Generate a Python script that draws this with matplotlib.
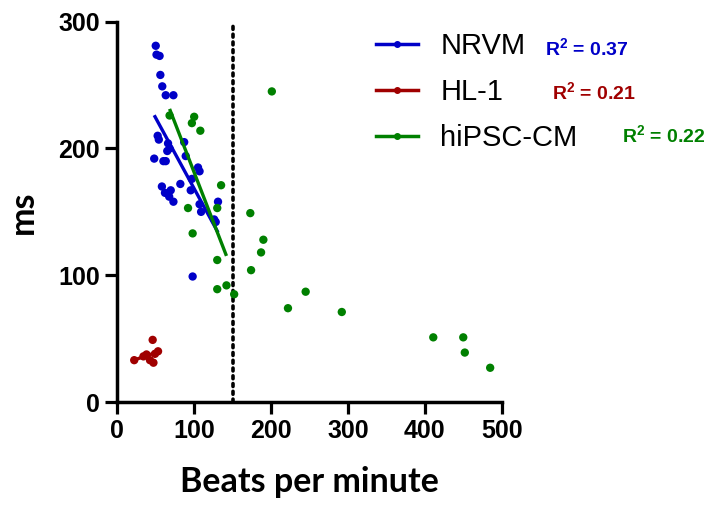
import numpy as np
import matplotlib
matplotlib.use("Agg")
import matplotlib.pyplot as plt
from matplotlib.lines import Line2D

plt.rcParams["mathtext.fontset"] = "custom"
plt.rcParams["mathtext.bf"] = "Liberation Sans:bold"
plt.rcParams["mathtext.rm"] = "Liberation Sans:bold"
plt.rcParams["mathtext.default"] = "bf"

# 데이터
nrvm_bpm = [50, 51, 55, 56, 58.5, 63, 73, 52.5, 54, 66, 68, 65, 87, 89, 48, 60, 63,
            105, 107, 97, 82, 58, 69.5, 62, 67.5, 73, 95.5, 107, 109, 131, 126, 128, 98]
nrvm_ms = [281, 274, 273, 258, 249, 242, 242, 210, 207, 204, 200, 198, 205, 194, 192, 190, 190,
           185, 182, 176, 172, 170, 167, 165, 162, 158, 167, 156, 150, 158, 144, 142, 99]

hl1_bpm = [46, 53, 22, 34, 38, 42.5, 47, 49]
hl1_ms = [49, 40, 33, 36, 37.5, 33, 31, 38]

ips_bpm = [68, 100, 97, 108, 135, 92, 130, 173, 98, 190, 187, 130, 174, 130, 142, 152,
           201, 245, 222, 292, 411, 450, 452, 485]
ips_ms = [226, 225, 220, 214, 171, 153, 153, 149, 133, 128, 118, 112, 104, 89, 92, 85,
          245, 87, 74, 71, 51, 51, 39, 27]

labels = ["NRVM", "HL-1", "hiPSC-CM"]
r2_text = ["0.37", "0.21", "0.22"]
colors = ["#0000c8", "#a00000", "#008000"]
cutoff = 150  # 점선 위치

fig = plt.figure(figsize=(7.14, 5.07), dpi=100)
ax = fig.add_axes([117.3 / 714, 105 / 507, 384.4 / 714, 380.3 / 507])

series = [(nrvm_bpm, nrvm_ms), (hl1_bpm, hl1_ms), (ips_bpm, ips_ms)]
for (xs, ys), c in zip(series, colors):
    ax.scatter(xs, ys, s=36, color=c, edgecolors="none", zorder=3, clip_on=False)

# 회귀선 (150 bpm 이하 데이터만)
for (xs, ys), c in zip(series, colors):
    xs = np.array(xs)
    ys = np.array(ys)
    m = xs < cutoff
    k, b = np.polyfit(xs[m], ys[m], 1)
    xx = np.array([xs[m].min(), xs[m].max()])
    ax.plot(xx, k * xx + b, color=c, lw=2.4, zorder=4, solid_capstyle="butt")

ax.axvline(cutoff, color="black", lw=2.6, linestyle=(0, (0.8, 1.35)),
           dash_capstyle="round", zorder=2)

ax.set_xlim(0, 500)
ax.set_ylim(0, 300)
ax.set_xticks([0, 100, 200, 300, 400, 500])
ax.set_yticks([0, 100, 200, 300])
for s in ["top", "right"]:
    ax.spines[s].set_visible(False)
for s in ["left", "bottom"]:
    ax.spines[s].set_linewidth(2.5)
ax.tick_params(direction="out", length=8.5, width=2.3, labelsize=18, pad=4)
for t in ax.get_xticklabels() + ax.get_yticklabels():
    t.set_fontweight("bold")
    t.set_family("Liberation Sans")

ax.set_xlabel("Beats per minute", fontsize=24.5, fontweight="bold", family="Lato", labelpad=16)
ax.set_ylabel("ms", fontsize=24.5, fontweight="bold", family="Lato", labelpad=14)

handles = [Line2D([0], [0], color=c, lw=2.5, marker="o", markersize=4) for c in colors]
ax.legend(handles, labels, loc="upper left", bbox_to_anchor=(376 / 714, 1 - 32 / 507),
          bbox_transform=fig.transFigure, frameon=False,
          prop={"family": "Liberation Sans", "size": 21},
          handlelength=1.45, handletextpad=0.75, labelspacing=0.62, borderpad=0, borderaxespad=0)

r2_pos = [(545, 48), (552, 92), (622, 135)]
for (px, py), r, c in zip(r2_pos, r2_text, colors):
    fig.text(px / 714, 1 - py / 507, r"R$^2$ = " + r, color=c, fontsize=14,
             fontweight="bold", family="Liberation Sans", va="center", ha="left")

plt.savefig("out.png", dpi=100)
